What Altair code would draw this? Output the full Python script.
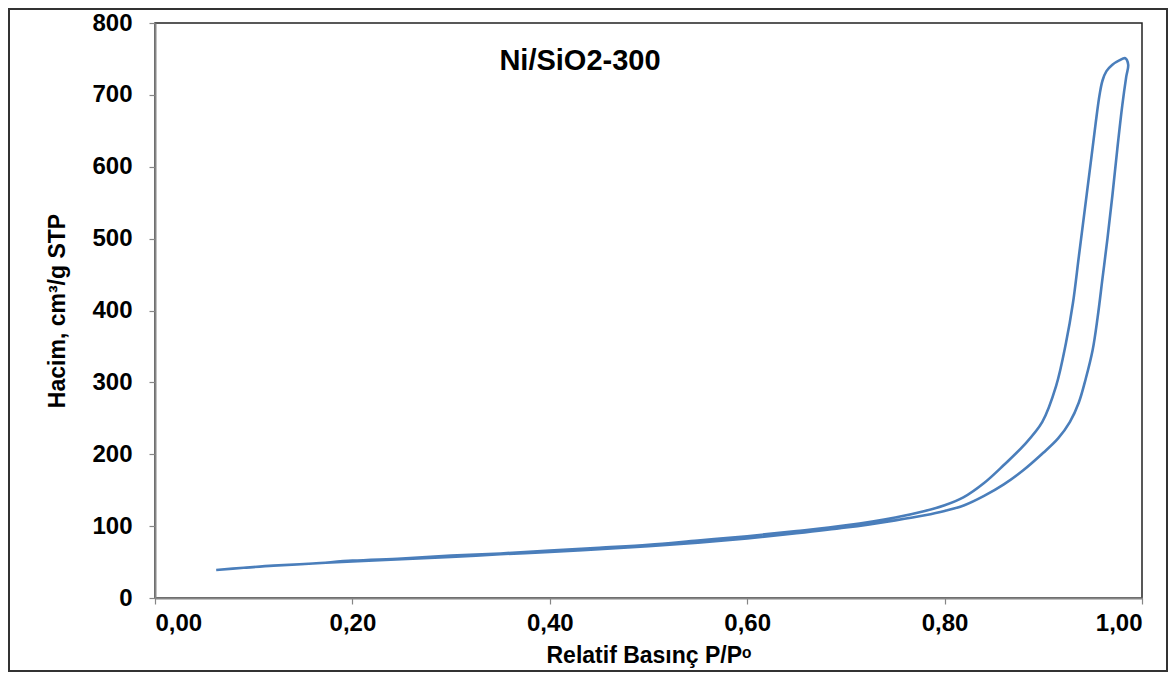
import altair as alt
import pandas as pd

# Adsorption branch (P/P0, volume)
ads_p = [0.062, 0.09, 0.12, 0.16, 0.20, 0.25, 0.30, 0.35, 0.40, 0.45, 0.50, 0.55, 0.60,
         0.65, 0.70, 0.75, 0.78, 0.80, 0.82, 0.84, 0.86, 0.88, 0.900, 0.915, 0.927,
         0.936, 0.943, 0.950, 0.955, 0.960, 0.965, 0.970, 0.975, 0.980, 0.984, 0.986, 0.983]
ads_v = [39, 42, 45, 48, 51, 54, 57, 61, 64, 68, 72, 77, 83,
         90, 98, 108, 115, 121, 129, 142, 158, 178, 202, 222, 245,
         272, 305, 345, 390, 445, 500, 560, 625, 685, 725, 742, 751]

# Desorption branch
des_p = [0.977, 0.970, 0.964, 0.960, 0.957, 0.953, 0.948, 0.942, 0.936, 0.930,
         0.923, 0.913, 0.899, 0.880, 0.860, 0.840, 0.819, 0.80, 0.78, 0.75, 0.70, 0.65,
         0.60, 0.55, 0.50, 0.45, 0.40, 0.35, 0.30, 0.25, 0.20, 0.16, 0.12]
des_v = [748, 742, 733, 720, 700, 660, 605, 540, 475, 410,
         355, 295, 245, 212, 185, 160, 140, 129, 121, 112, 101, 93,
         86, 80, 74, 70, 66, 62, 59, 55, 52, 48, 45]

x_ticks = [0.0, 0.2, 0.4, 0.6, 0.8, 1.0]
y_ticks = [0, 100, 200, 300, 400, 500, 600, 700, 800]

label_text = ["Ni/SiO2-300"]
label_p = [0.4306]
label_v = [747]

rows = []
idx = 0
for p, v in zip(ads_p + des_p, ads_v + des_v):
    rows.append({"p": p, "v": v, "i": idx})
    idx += 1
df = pd.DataFrame(rows)

FONT = "Liberation Sans"

line = alt.Chart(df).mark_line(
    color="#4A7EBB", strokeWidth=2.6, interpolate="catmull-rom"
).encode(
    x=alt.X("p:Q", scale=alt.Scale(domain=[0, 1], nice=False),
            axis=alt.Axis(values=x_ticks,
                          labelExpr="replace(format(datum.value, '.2f'), '.', ',')",
                          title="Relatif Basınç P/Pᵒ",
                          labelPadding=7, titlePadding=9)),
    y=alt.Y("v:Q", scale=alt.Scale(domain=[0, 800], nice=False),
            axis=alt.Axis(values=y_ticks, title="Hacim, cm³/g STP",
                          labelPadding=17,
                          titleX=-98, titleY=287.5, titleAngle=270,
                          titleAlign="center", titleBaseline="middle")),
    order="i:Q",
)

tdf = pd.DataFrame({"p": label_p, "v": label_v, "t": label_text})
title = alt.Chart(tdf).mark_text(
    font=FONT, fontSize=29, fontWeight="bold", color="black",
    align="center", baseline="middle"
).encode(x="p:Q", y="v:Q", text="t:N")

frame = alt.Chart(pd.DataFrame({"a": [0]})).mark_rect(
    fillOpacity=0, stroke="#333333", strokeWidth=2
).encode(x=alt.value(-146), x2=alt.value(1012), y=alt.value(-14), y2=alt.value(648))

chart = alt.layer(frame, line, title).properties(
    width=987, height=575,
    autosize=alt.AutoSizeParams(type="none"),
    padding={"left": 147, "top": 15, "right": 26, "bottom": 74},
    background="white",
).configure_view(
    stroke="#222222", strokeWidth=1.5
).configure_axis(
    grid=False,
    domainColor="#868686", domainWidth=2,
    tickColor="#868686", tickSize=6, tickWidth=1.2,
    labelFont=FONT, labelFontSize=24, labelFontWeight="bold", labelColor="black",
    titleFont=FONT, titleFontSize=23, titleFontWeight="bold", titleColor="black",
)

chart.save("out.html", embed_options={"renderer": "svg", "actions": False})
